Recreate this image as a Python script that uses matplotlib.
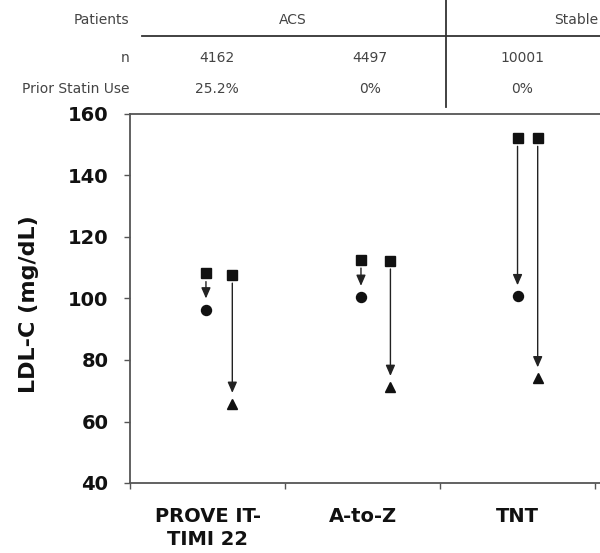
import numpy as np
import matplotlib
matplotlib.use('Agg')
from matplotlib import pyplot as plt

# LDL-C readings per trial (mg/dL)
trials = ['PROVE IT-\nTIMI 22', 'A-to-Z', 'TNT']
base_low = [108.2, 112.6, 152.2]     # square, lower-dose arm
on_low = [96.4, 100.5, 100.7]        # circle
base_high = [107.7, 112.3, 152.2]    # square, high-dose arm
on_high = [65.7, 71.2, 74.0]         # triangle

# table above the plot
patients = ['ACS', 'Stable']
n_pts = ['4162', '4497', '10001']
prior_statin = ['25.2%', '0%', '0%']

# layout (x position of each arm inside its category)
x_low = np.array([0.49, 1.49, 2.50])
x_high = np.array([0.66, 1.68, 2.63])

W, H = 600, 553
fig = plt.figure(figsize=(6, 5.53), dpi=100)


def fx(px):
    return px / W


def fy(py):
    return 1 - py / H


ax = fig.add_axes([fx(130), fy(483), fx(470), 369 / H])
ax.set_xlim(0, 3.032)
ax.set_ylim(40, 160)

ink = '#111111'
ax.plot(x_low, base_low, 's', color=ink, ms=6.8, zorder=3)
ax.plot(x_low, on_low, 'o', color=ink, ms=7.2, zorder=3)
ax.plot(x_high, base_high, 's', color=ink, ms=6.8, zorder=3)
ax.plot(x_high, on_high, '^', color=ink, ms=7.8, zorder=3)

arrow = dict(arrowstyle='-|>,head_length=0.8,head_width=0.35', color='#222222',
             lw=1.0, shrinkA=6, shrinkB=8, mutation_scale=8)
for i in range(len(trials)):
    ax.annotate('', xy=(x_low[i], on_low[i]), xytext=(x_low[i], base_low[i]), arrowprops=arrow)
    ax.annotate('', xy=(x_high[i], on_high[i]), xytext=(x_high[i], base_high[i]), arrowprops=arrow)

# axes styling
for s in ['left', 'bottom', 'top']:
    ax.spines[s].set_color('#555555')
    ax.spines[s].set_linewidth(1.3)
ax.spines['right'].set_visible(False)

ax.set_yticks(np.arange(40, 161, 20))
ax.tick_params(axis='y', direction='out', length=4.5, width=1, color='#555555', pad=11,
               labelsize=14, labelcolor=ink)
for lb in ax.get_yticklabels():
    lb.set_fontweight('bold')

ax.set_xticks([0, 1, 2, 3])
ax.set_xticklabels([])
ax.tick_params(axis='x', which='major', direction='out', length=4.5, width=1, color='#555555')
ax.set_xticks([0.5, 1.5, 2.5], minor=True)
ax.set_xticklabels(trials, minor=True, fontsize=14, fontweight='bold', color=ink,
                   linespacing=1.3)
ax.tick_params(axis='x', which='minor', length=0, pad=17)

ax.set_ylabel('LDL-C (mg/dL)', fontsize=16, fontweight='bold', color=ink)
ax.yaxis.set_label_coords(-0.194, 0.485)

# header table
tcol = '#444444'
fs = 10
fig.text(fx(129), fy(20), 'Patients', ha='right', va='center', fontsize=fs, color=tcol)
fig.text(fx(293), fy(20), patients[0], ha='center', va='center', fontsize=fs, color=tcol)
fig.text(fx(554), fy(20), patients[1], ha='left', va='center', fontsize=fs, color=tcol)
fig.text(fx(129), fy(58), 'n', ha='right', va='center', fontsize=fs, color=tcol)
fig.text(fx(129), fy(89), 'Prior Statin Use', ha='right', va='center', fontsize=fs, color=tcol)
col_x = [217, 370, 522]
for cx, nv, pv in zip(col_x, n_pts, prior_statin):
    fig.text(fx(cx), fy(58), nv, ha='center', va='center', fontsize=fs, color=tcol)
    fig.text(fx(cx), fy(89), pv, ha='center', va='center', fontsize=fs, color=tcol)

fig.add_artist(plt.Line2D([fx(142), 1], [fy(36), fy(36)], color='#333333', lw=1.3))
fig.add_artist(plt.Line2D([fx(446), fx(446)], [fy(0), fy(107)], color='#333333', lw=1.3))

plt.savefig('out.png', dpi=100)
